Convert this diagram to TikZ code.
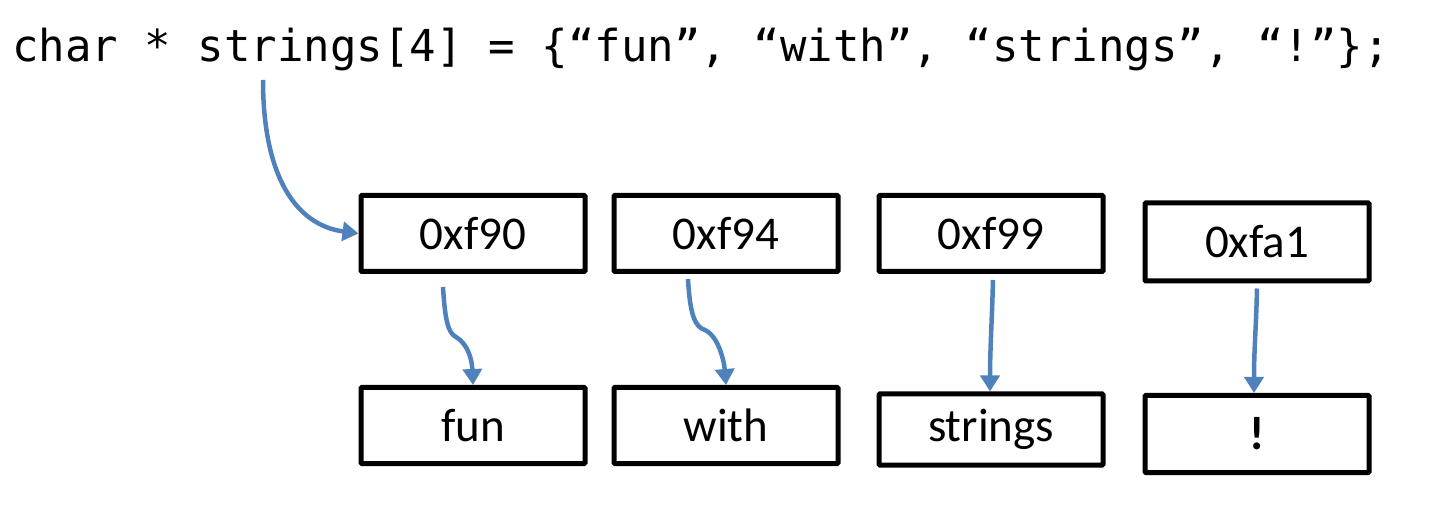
\documentclass[tikz,border=0pt]{standalone}
\usepackage{fontspec}
\setmainfont{Carlito}
\newfontfamily\codefont{DejaVu Sans Mono}
\usetikzlibrary{arrows.meta}
\definecolor{arrowblue}{RGB}{79,129,189}
\begin{document}
\begin{tikzpicture}[x=1pt,y=-1pt,
  cell/.style={draw=black, line width=5pt, rounded corners=1pt, minimum width=224pt, minimum height=76pt, inner sep=0pt, font=\fontsize{47}{50}\selectfont},
  ptr/.style={draw=arrowblue, line width=4.5pt, -{Triangle[length=16pt,width=19pt]}}]
\useasboundingbox (0,0) rectangle (1430,510);
\node[anchor=base west, inner sep=0pt, font=\codefont\fontsize{44}{46}\selectfont] (code) at (12,62) {char * strings[4] = \{“fun”, “with”, “strings”, “!”\};};
\coordinate (src) at (263,80);
\node[cell] (a0) at (473,233.5) {0xf90};
\node[cell] (a1) at (726,233.5) {0xf94};
\node[cell] (a2) at (991,233.5) {0xf99};
\node[cell, minimum height=78pt] (a3) at (1257,242) {0xfa1};
\node[cell] (s0) at (473,425.5) {fun};
\node[cell] (s1) at (726,425.5) {with};
\node[cell, minimum height=71pt] (s2) at (991,429.5) {strings};
\node[cell, minimum height=77pt, font=\fontsize{47}{50}\selectfont\bfseries] (s3) at (1257,434) {!};
\draw[ptr] (src) .. controls (263,175) and (295,225) .. (a0.west);
\draw[ptr] (a0.south -| 443,0) ++(0,13) .. controls (445,320) and (448,333) .. (456,337) .. controls (468,344) and (472,360) .. (s0.north);
\draw[ptr] (a1.south -| 688,0) ++(0,5) .. controls (690,315) and (695,327) .. (705,330) .. controls (718,336) and (724,360) .. (s1.north);
\draw[ptr] (a2.south -| 993,0) ++(0,6) .. controls (992,320) and (990,350) .. (s2.north -| 990,0);
\draw[ptr] (a3.south -| 1257,0) ++(0,5) .. controls (1256,330) and (1254,350) .. (s3.north -| 1254,0);
\end{tikzpicture}
\end{document}
